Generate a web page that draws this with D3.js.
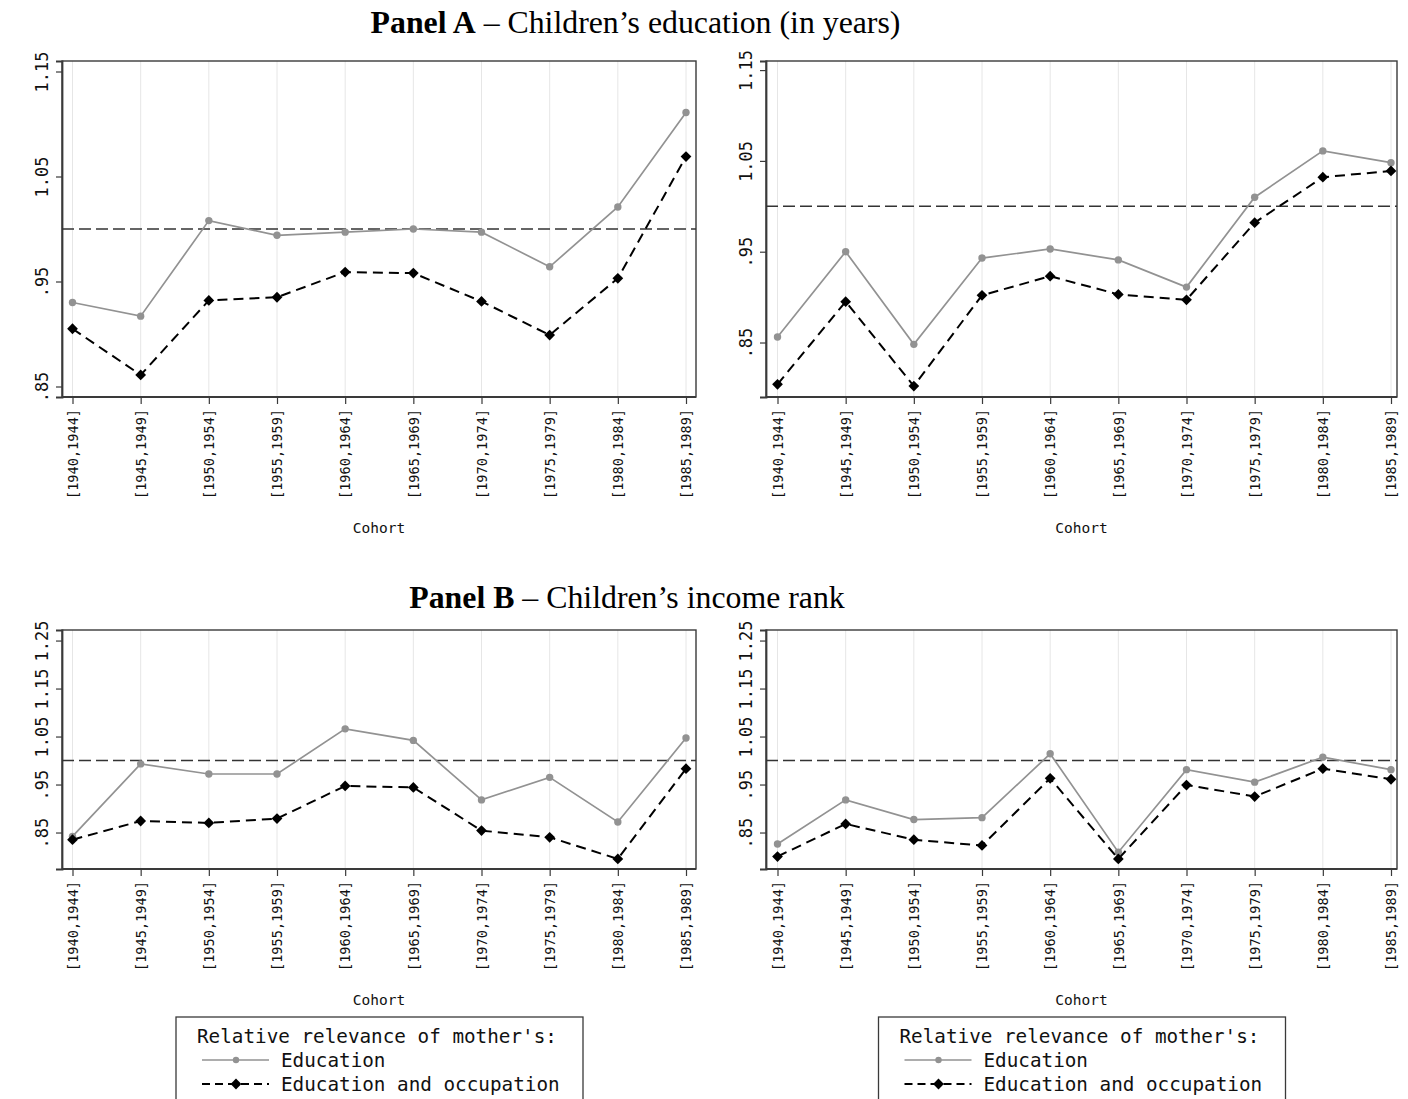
<!DOCTYPE html>
<html>
<head>
<meta charset="utf-8">
<script src="https://cdn.jsdelivr.net/npm/d3@7"></script>
<style>
  html, body { margin: 0; padding: 0; background: #fff; }
  svg { display: block; }
</style>
</head>
<body>
<svg id="chart" width="1408" height="1099"></svg>
<script>
// Birth cohorts on the x axis
const cohorts = ["[1940,1944]", "[1945,1949]", "[1950,1954]", "[1955,1959]", "[1960,1964]",
                 "[1965,1969]", "[1970,1974]", "[1975,1979]", "[1980,1984]", "[1985,1989]"];

// Panel A – children's education: relative relevance of mother's education / education and occupation
const eduA1    = [0.930, 0.917, 1.008, 0.994, 0.997, 1.000, 0.997, 0.964, 1.021, 1.111];
const eduOccA1 = [0.905, 0.861, 0.932, 0.935, 0.959, 0.958, 0.931, 0.899, 0.953, 1.069];
const eduA2    = [0.856, 0.950, 0.848, 0.943, 0.953, 0.941, 0.911, 1.010, 1.061, 1.048];
const eduOccA2 = [0.804, 0.895, 0.802, 0.902, 0.923, 0.903, 0.897, 0.982, 1.032, 1.039];

// Panel B – children's income rank
const eduB1    = [0.842, 0.993, 0.972, 0.972, 1.066, 1.042, 0.918, 0.965, 0.872, 1.047];
const eduOccB1 = [0.835, 0.874, 0.870, 0.879, 0.947, 0.944, 0.854, 0.840, 0.795, 0.983];
const eduB2    = [0.826, 0.918, 0.877, 0.881, 1.014, 0.809, 0.981, 0.955, 1.007, 0.981];
const eduOccB2 = [0.800, 0.868, 0.835, 0.823, 0.963, 0.795, 0.949, 0.925, 0.983, 0.961];

// Y axis ticks and the reference level
const yTicksA = [0.85, 0.95, 1.05, 1.15];
const yTicksB = [0.85, 0.95, 1.05, 1.15, 1.25];
const refLevel = 1;

const legendTitle = "Relative relevance of mother's:";
const seriesNames = ["Education", "Education and occupation"];

const MONO = "'DejaVu Sans Mono', monospace";
const SERIF = "'Liberation Serif', 'Times New Roman', serif";
const svg = d3.select("#chart");

const fmt = v => d3.format(".2f")(v).replace(/^0\./, ".");

const colL = { x0: 62, x1: 696, px0: 72.5, px1: 686 };
const colR = { x0: 766, x1: 1397, px0: 777.5, px1: 1391 };
const rowA = { y0: 61, y1: 397 };
const rowB = { y0: 630, y1: 869 };

const panels = [
  { col: colL, row: rowA, dom: [0.84, 1.16],  ticks: yTicksA, edu: eduA1, occ: eduOccA1, legend: false },
  { col: colR, row: rowA, dom: [0.79, 1.16],  ticks: yTicksA, edu: eduA2, occ: eduOccA2, legend: false },
  { col: colL, row: rowB, dom: [0.774, 1.272], ticks: yTicksB, edu: eduB1, occ: eduOccB1, legend: true },
  { col: colR, row: rowB, dom: [0.774, 1.272], ticks: yTicksB, edu: eduB2, occ: eduOccB2, legend: true }
];

const GRAY = "#929292";

function diamondPath() {
  return d3.symbol().type(d3.symbolSquare).size(58)();
}

panels.forEach(p => {
  const g = svg.append("g");
  const x = d3.scalePoint().domain(cohorts).range([p.col.px0, p.col.px1]);
  const y = d3.scaleLinear().domain(p.dom).range([p.row.y1, p.row.y0]);

  // vertical grid lines
  g.append("g").selectAll("line").data(cohorts).join("line")
    .attr("x1", d => x(d)).attr("x2", d => x(d))
    .attr("y1", p.row.y0).attr("y2", p.row.y1)
    .attr("stroke", "#e6e6e6").attr("stroke-width", 1);

  // plot frame
  g.append("rect")
    .attr("x", p.col.x0).attr("y", p.row.y0)
    .attr("width", p.col.x1 - p.col.x0).attr("height", p.row.y1 - p.row.y0)
    .attr("fill", "none").attr("stroke", "#3a3a3a").attr("stroke-width", 1.4);

  // y axis
  const yAxis = d3.axisLeft(y).tickValues(p.ticks).tickFormat(fmt).tickSize(6).tickPadding(0);
  const ya = g.append("g").attr("transform", `translate(${p.col.x0},0)`).call(yAxis);
  ya.select(".domain").attr("stroke", "#3a3a3a").attr("stroke-width", 1.8);
  ya.selectAll(".tick line").attr("stroke", "#3a3a3a").attr("stroke-width", 1.2);
  ya.selectAll(".tick text")
    .attr("font-family", MONO).attr("font-size", 17).attr("fill", "#111")
    .attr("text-anchor", "middle")
    .attr("x", 0).attr("y", 0).attr("dy", 0)
    .attr("transform", "translate(-14,0) rotate(-90)");

  // x axis
  const xAxis = d3.axisBottom(x).tickSize(7).tickPadding(0).tickSizeOuter(0);
  const xa = g.append("g").attr("transform", `translate(0,${p.row.y1})`).call(xAxis);
  xa.select(".domain").attr("stroke", "#3a3a3a").attr("stroke-width", 2)
    .attr("d", `M${p.col.x0},0H${p.col.x1}`);
  xa.selectAll(".tick line").attr("stroke", "#3a3a3a").attr("stroke-width", 1.2);
  xa.selectAll(".tick text")
    .attr("font-family", MONO).attr("font-size", 13.6).attr("fill", "#111")
    .attr("text-anchor", "end")
    .attr("x", 0).attr("y", 0).attr("dy", "0.35em")
    .attr("transform", "translate(0,12) rotate(-90)");

  // x axis title
  const cx = (p.col.x0 + p.col.x1) / 2;
  g.append("text").attr("x", cx).attr("y", p.row.y1 + 136)
    .attr("text-anchor", "middle").attr("font-family", MONO).attr("font-size", 14.5)
    .attr("fill", "#111").text("Cohort");

  // reference line
  g.append("line")
    .attr("x1", p.col.x0).attr("x2", p.col.x1)
    .attr("y1", y(refLevel)).attr("y2", y(refLevel))
    .attr("stroke", "#333").attr("stroke-width", 1.5).attr("stroke-dasharray", "12,5");

  // education series: gray solid line with circles
  const line = d3.line().x((d, i) => x(cohorts[i])).y(d => y(d));
  g.append("path").datum(p.edu).attr("d", line)
    .attr("fill", "none").attr("stroke", GRAY).attr("stroke-width", 1.7);
  g.append("g").selectAll("circle").data(p.edu).join("circle")
    .attr("cx", (d, i) => x(cohorts[i])).attr("cy", d => y(d)).attr("r", 3.7)
    .attr("fill", GRAY);

  // education and occupation series: black dashed line with diamonds
  g.append("path").datum(p.occ).attr("d", line)
    .attr("fill", "none").attr("stroke", "#000").attr("stroke-width", 2)
    .attr("stroke-dasharray", "10,6");
  g.append("g").selectAll("path").data(p.occ).join("path")
    .attr("d", diamondPath())
    .attr("transform", (d, i) => `translate(${x(cohorts[i])},${y(d)}) rotate(45)`)
    .attr("fill", "#000");

  // legend under the income-rank panels
  if (p.legend) {
    const lx = cx - 203, ly = 1017;
    const fs = 19.3;
    const lg = svg.append("g");
    lg.append("rect").attr("x", lx).attr("y", ly).attr("width", 407).attr("height", 110)
      .attr("fill", "#fff").attr("stroke", "#3a3a3a").attr("stroke-width", 1.3);
    lg.append("text").attr("x", lx + 21).attr("y", ly + 26)
      .attr("font-family", MONO).attr("font-size", fs).attr("fill", "#111").text(legendTitle);
    // entry 1
    lg.append("line").attr("x1", lx + 26).attr("x2", lx + 93).attr("y1", ly + 43).attr("y2", ly + 43)
      .attr("stroke", GRAY).attr("stroke-width", 1.6);
    lg.append("circle").attr("cx", lx + 60).attr("cy", ly + 43).attr("r", 3.2).attr("fill", GRAY);
    lg.append("text").attr("x", lx + 105).attr("y", ly + 50)
      .attr("font-family", MONO).attr("font-size", fs).attr("fill", "#111").text(seriesNames[0]);
    // entry 2
    lg.append("line").attr("x1", lx + 26).attr("x2", lx + 93).attr("y1", ly + 67).attr("y2", ly + 67)
      .attr("stroke", "#000").attr("stroke-width", 2).attr("stroke-dasharray", "8,5");
    lg.append("path").attr("d", diamondPath())
      .attr("transform", `translate(${lx + 60},${ly + 67}) rotate(45)`).attr("fill", "#000");
    lg.append("text").attr("x", lx + 105).attr("y", ly + 74)
      .attr("font-family", MONO).attr("font-size", fs).attr("fill", "#111").text(seriesNames[1]);
  }
});

// panel headings
function heading(x, y, bold, rest) {
  const t = svg.append("text").attr("x", x).attr("y", y)
    .attr("text-anchor", "middle").attr("font-family", SERIF).attr("font-size", 31.8).attr("fill", "#000");
  t.append("tspan").attr("font-weight", "bold").text(bold);
  t.append("tspan").text(rest);
}
heading(635.5, 33, "Panel A", " \u2013 Children\u2019s education (in years)");
heading(627, 608, "Panel B", " \u2013 Children\u2019s income rank");
</script>
</body>
</html>
